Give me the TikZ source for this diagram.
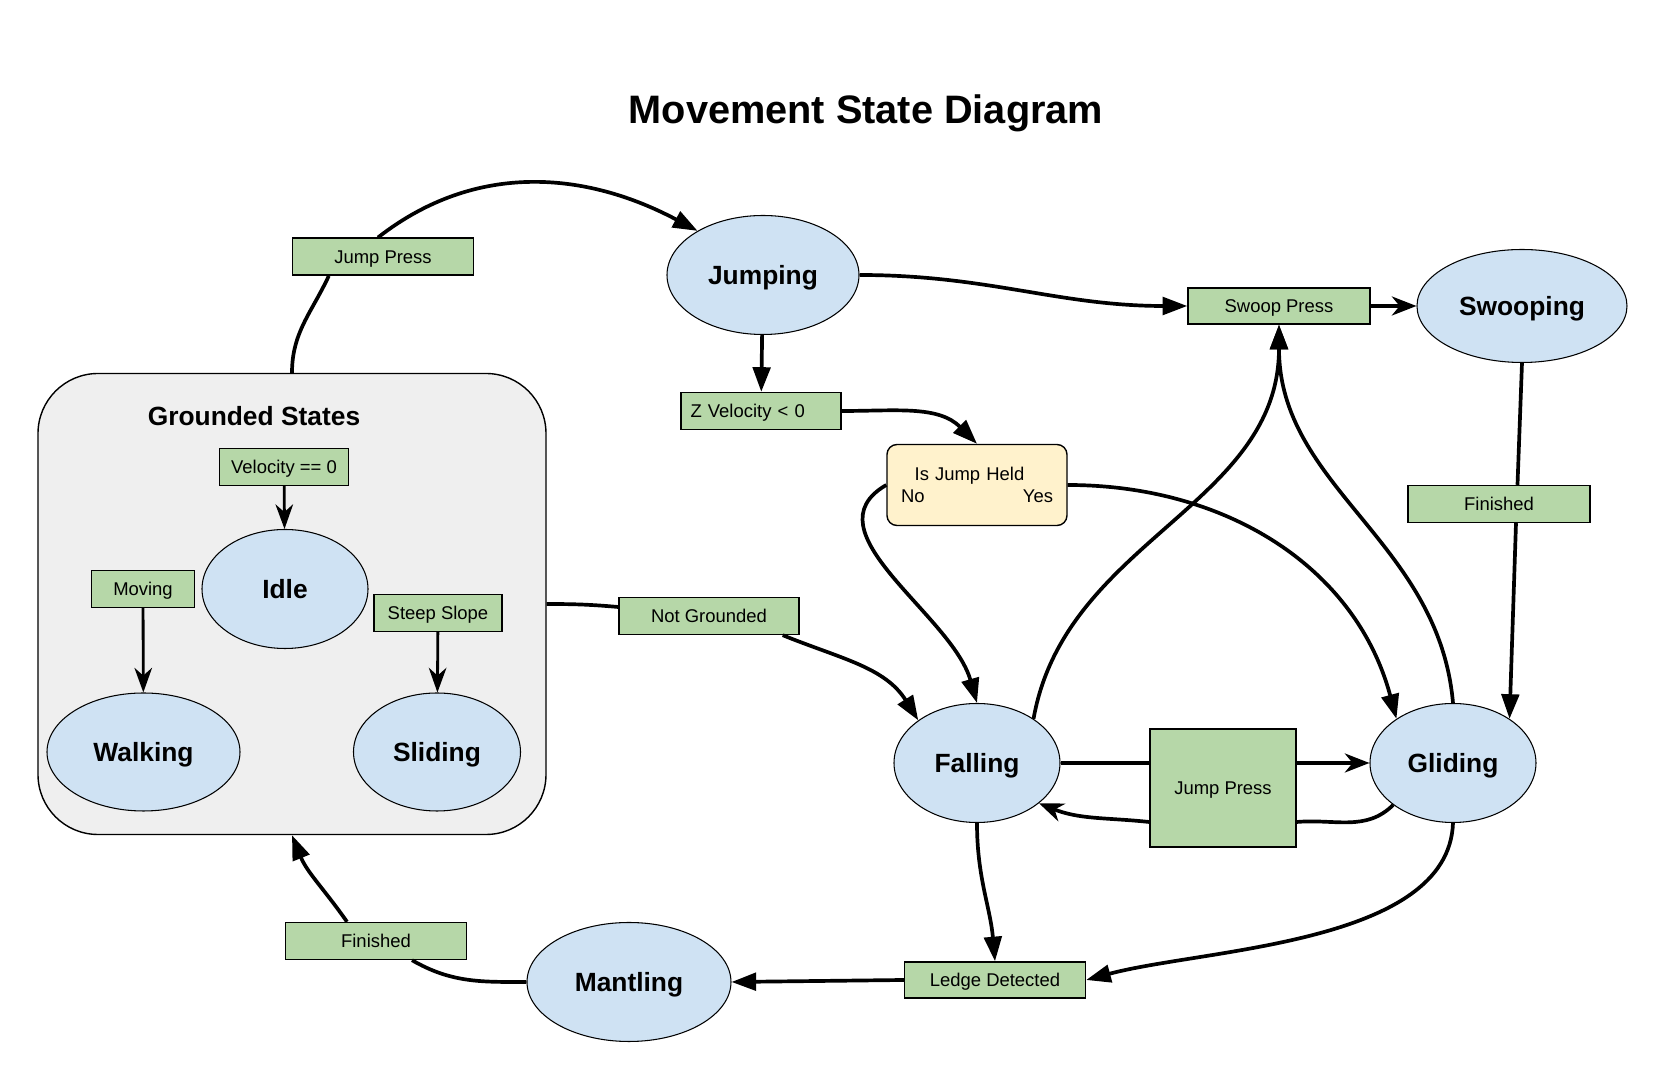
\documentclass[tikz,border=0pt]{standalone}
\usepackage{fontspec}
\setmainfont{Liberation Sans}
\usepackage{tikz}
\usetikzlibrary{arrows.meta, shapes.geometric}
\definecolor{stateblue}{RGB}{207, 226, 243}
\definecolor{condgreen}{RGB}{182, 215, 168}
\definecolor{heldyellow}{RGB}{255, 242, 204}
\definecolor{groupgray}{RGB}{239, 239, 239}

\begin{document}
\begin{tikzpicture}[>={Triangle[length=7pt, width=5pt]},
    state/.style={ellipse, draw, line width=0.3pt, fill=stateblue, inner sep=0pt,
      text depth=0pt, font=\fontsize{7.5}{9}\selectfont\bfseries},
    cond/.style={draw, line width=0.4pt, fill=condgreen, inner sep=0pt, text depth=0pt,
      minimum height=0.37cm, font=\fontsize{5.25}{6.3}\selectfont},
    flow/.style={->, line width=1.05pt},
    link/.style={line width=1.05pt},
    push/.style={-{Stealth[length=7pt, width=5.4pt, inset=2.2pt]}, line width=1.05pt},
    inarrow/.style={-{Stealth[length=7pt, width=5pt, inset=2.2pt]}, line width=0.8pt}]
  \useasboundingbox (0,0) rectangle (16.67,10.85);
  \fill[white] (0,0) rectangle (16.67,10.85);
  \node[font=\fontsize{11.3}{13}\selectfont\bfseries, anchor=base] (title) at (8.66,9.617) {Movement State Diagram};

  \node[draw, line width=0.4pt, fill=groupgray, rounded corners=0.6cm,
    minimum width=5.08cm, minimum height=4.61cm] (grounded) at (2.92,4.81) {};
  \node[font=\fontsize{7.5}{9}\selectfont\bfseries, anchor=base] (groundedlbl) at (2.54,6.59) {Grounded States};
  \node[cond, minimum width=1.29cm] (velzero) at (2.84,6.18) {Velocity == 0};
  \node[state, minimum width=1.66cm, minimum height=1.19cm] (idle) at (2.85,4.96) {Idle};
  \node[cond, minimum width=1.03cm] (moving) at (1.43,4.96) {Moving};
  \node[state, minimum width=1.93cm, minimum height=1.18cm] (walking) at (1.435,3.33) {Walking};
  \node[cond, minimum width=1.28cm] (steep) at (4.38,4.72) {Steep Slope};
  \node[state, minimum width=1.67cm, minimum height=1.18cm] (sliding) at (4.37,3.33) {Sliding};

  \node[cond, minimum width=1.81cm] (jumppress) at (3.83,8.283) {Jump Press};
  \node[state, minimum width=1.92cm, minimum height=1.19cm] (jumping) at (7.63,8.10) {Jumping};
  \node[cond, minimum width=1.82cm, minimum height=0.36cm] (swooppress) at (12.79,7.79) {Swoop Press};
  \node[state, minimum width=2.10cm, minimum height=1.13cm] (swooping) at (15.22,7.79) {Swooping};
  \node[cond, align=left, text width=1.41cm, inner xsep=0.095cm] (zvel) at (7.61,6.74) {Z Velocity < 0};
  \node[draw, line width=0.4pt, fill=heldyellow, rounded corners=0.1cm, align=center,
    text width=1.52cm, inner xsep=0.14cm, minimum height=0.81cm,
    font=\fontsize{5.25}{6.35}\selectfont] (held) at (9.77,6.00) {Is Jump Held\rule{0.15cm}{0pt}\\No\hfill Yes};
  \node[cond, minimum width=1.82cm] (finswoop) at (14.99,5.81) {Finished};
  \node[cond, minimum width=1.80cm] (notgrounded) at (7.09,4.69) {Not Grounded};

  \node[state, minimum width=1.66cm, minimum height=1.19cm] (falling) at (9.77,3.22) {Falling};
  \node[cond, minimum width=1.46cm, minimum height=1.18cm] (glidepress) at (12.23,2.97) {Jump Press};
  \node[state, minimum width=1.66cm, minimum height=1.19cm] (gliding) at (14.53,3.22) {Gliding};
  \node[cond, minimum width=1.81cm, minimum height=0.36cm] (ledge) at (9.95,1.05) {Ledge Detected};
  \node[state, minimum width=2.04cm, minimum height=1.19cm] (mantling) at (6.29,1.03) {Mantling};
  \node[cond, minimum width=1.81cm] (finmantle) at (3.76,1.44) {Finished};

  \draw[inarrow] (velzero) -- (idle);
  \draw[inarrow] (moving) -- (walking);
  \draw[inarrow] (steep) -- (sliding);

  \draw[link] (grounded.north) to[out=90, in=245] ([xshift=0.37cm]jumppress.south west);
  \draw[flow] ([xshift=-0.05cm]jumppress.north) to[out=38, in=152] (jumping.146);
  \draw[flow] (jumping.east) to[out=0, in=180] (swooppress.west);
  \draw[push] (swooppress) -- (swooping);
  \draw[flow] (jumping) -- (zvel);
  \draw[flow] (zvel.east) to[out=0, in=135] (held.north);
  \draw[flow] (held.west) to[out=210, in=106] (falling.north);
  \draw[flow] (held.east) to[out=0, in=105] (gliding.142);
  \draw[flow] (falling.38) to[out=80, in=270] (swooppress.south);
  \draw[flow] (gliding.north) to[out=95, in=270] (swooppress.south);
  \draw[link] (swooping.south) -- ([xshift=0.185cm]finswoop.north);
  \draw[flow] ([xshift=0.17cm]finswoop.south) -- (gliding.38);

  \draw[link] (grounded.east) to[out=0, in=175] ([yshift=0.09cm]notgrounded.west);
  \draw[flow] ([xshift=-0.17cm]notgrounded.south east) to[out=-22, in=122] (falling.144);
  \draw[link] (falling.east) -- (falling.east -| glidepress.west);
  \draw[push] (falling.east -| glidepress.east) -- (gliding.west);
  \draw[link] (gliding.215) to[out=225, in=5] ([yshift=-0.34cm]glidepress.east);
  \draw[push] ([yshift=-0.34cm]glidepress.west) to[out=174, in=-22] (falling.-33);

  \draw[flow] (falling.south) to[out=-90, in=95] (ledge.north);
  \draw[flow] (gliding.south) to[out=-92, in=15, looseness=0.78] (ledge.east);
  \draw[flow] (ledge.west) -- (mantling.east);
  \draw[link] (mantling.west) to[out=180, in=-30] ([xshift=0.36cm]finmantle.south);
  \draw[flow] ([xshift=-0.29cm]finmantle.north) to[out=125, in=-68] (grounded.south);
\end{tikzpicture}
\end{document}
